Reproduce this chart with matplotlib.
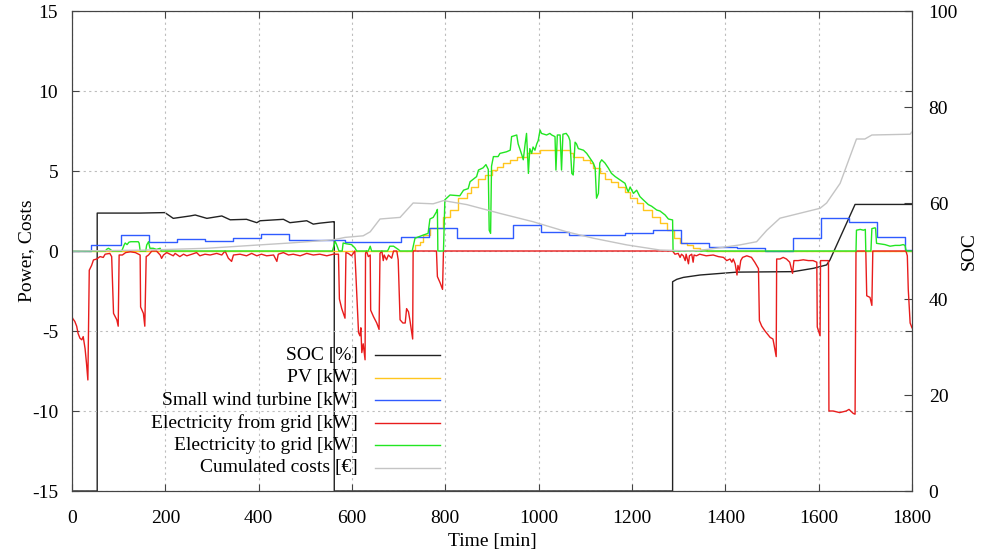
import matplotlib
matplotlib.use("Agg")
import matplotlib.pyplot as plt

plt.rcParams['font.family'] = ['Liberation Serif', 'DejaVu Serif']
plt.rcParams['axes.unicode_minus'] = False

# SOC [%] (right axis)
soc_t = [0, 54, 54, 146, 199, 217, 253, 264, 289, 321, 339, 374, 396, 403, 453, 467, 503, 517, 531, 560,
         562, 562, 1287, 1287, 1296, 1310, 1346, 1425, 1546, 1589, 1617, 1624, 1678, 1800]
soc_v = [0, 0, 57.9, 57.9, 58.0, 56.8, 57.3, 57.5, 56.8, 57.3, 56.5, 56.6, 55.9, 56.3, 56.6, 55.9, 56.3, 55.6, 55.8, 56.1,
         56.1, 0, 0, 43.6, 44.1, 44.5, 45.0, 45.6, 45.7, 46.4, 47.1, 48.1, 59.7, 59.7]

# PV [kW] (step changes)
pv_t = [0, 731, 735, 746, 753, 767, 796, 810, 828, 846, 856, 871, 885, 899, 910, 924, 939, 953, 974, 1003,
        1067, 1074, 1096, 1110, 1117, 1131, 1142, 1156, 1171, 1185, 1196, 1210, 1224, 1242, 1260, 1274, 1289,
        1303, 1317, 1331, 1346, 1360, 1800]
pv_v = [0, 0.06, 0.37, 0.58, 1.0, 1.42, 2.1, 2.56, 3.3, 3.6, 4.0, 4.5, 4.75, 5.06, 5.27, 5.5, 5.7, 5.9, 6.1, 6.3,
        6.1, 5.9, 5.7, 5.5, 5.2, 4.85, 4.5, 4.33, 4.0, 3.7, 3.3, 3.0, 2.56, 2.15, 1.73, 1.3, 0.8,
        0.48, 0.37, 0.17, 0.06, 0, 0]

# small wind turbine [kW] (hourly steps)
wind_t = [0, 40, 105, 165, 225, 285, 345, 405, 465, 525, 585, 645, 705, 765, 825, 885, 945, 1005, 1065, 1125,
          1185, 1245, 1305, 1365, 1425, 1485, 1545, 1605, 1665, 1725, 1785, 1800]
wind_v = [0, 0.37, 1.0, 0.58, 0.75, 0.62, 0.79, 1.08, 0.69, 0.69, 0.56, 0.54, 0.87, 1.42, 0.82, 0.82, 1.64, 1.2, 1.0, 1.0,
          1.1, 1.3, 0.52, 0.27, 0.17, 0.0, 0.8, 2.05, 1.83, 0.9, 0.06, 0.06]

# electricity from grid [kW]
grid_from_t = [0, 1, 6, 10, 13, 17, 21, 24, 28, 31, 34, 37, 42, 46, 53, 60, 67, 71, 81, 85,
               89, 96, 99, 101, 108, 115, 125, 136, 146, 147, 153, 156, 159, 164, 171, 181, 189, 192, 196, 203,
               210, 217, 221, 231, 239, 246, 257, 267, 274, 285, 296, 310, 321, 328, 335, 342, 346, 360, 374, 385,
               396, 406, 417, 432, 439, 442, 453, 464, 474, 489, 503, 517, 531, 546, 560, 571, 573, 578, 585, 587,
               592, 599, 606, 610, 614, 617, 619, 621, 624, 628, 629, 631, 635, 639, 640, 646, 653, 658, 660, 664,
               667, 669, 674, 678, 685, 689, 696, 699, 701, 703, 709, 714, 717, 721, 724, 730, 731, 781, 783, 789,
               794, 796, 1287, 1292, 1299, 1303, 1306, 1310, 1314, 1316, 1321, 1323, 1328, 1331, 1333, 1338, 1345, 1359, 1374, 1385,
               1396, 1403, 1410, 1414, 1417, 1421, 1425, 1427, 1430, 1433, 1437, 1446, 1456, 1463, 1469, 1471, 1473, 1478, 1485, 1496,
               1502, 1504, 1509, 1510, 1517, 1524, 1531, 1538, 1544, 1547, 1556, 1567, 1578, 1588, 1596, 1597, 1603, 1604, 1610, 1621,
               1622, 1631, 1645, 1659, 1665, 1674, 1678, 1680, 1701, 1703, 1710, 1714, 1716, 1787, 1790, 1792, 1796, 1800]
grid_from_v = [-4.0, -4.2, -4.4, -4.7, -5.15, -5.45, -5.55, -5.35, -6.1, -7.0, -8.06, -1.2, -0.9, -0.56, -0.5, -0.35, -0.4, -0.2, -0.15, -0.35,
               -3.9, -4.3, -4.7, -0.25, -0.25, -0.1, -0.05, -0.1, -0.25, -3.5, -3.9, -4.7, -0.35, -0.25, 0, 0, -0.25, -0.46, -0.25, -0.1,
               -0.2, -0.3, -0.15, -0.35, -0.2, -0.3, -0.2, -0.1, -0.3, -0.2, -0.25, -0.15, -0.25, 0, -0.45, -0.65, -0.25, -0.2, -0.3, -0.15,
               -0.3, -0.2, -0.3, -0.25, -0.65, -0.2, -0.1, -0.25, -0.2, -0.3, -0.15, -0.25, -0.2, -0.3, -0.2, -0.2, -3.0, -3.6, -4.2, -0.1,
               -0.15, -0.3, 0, -2.5, -5.1, -5.3, -4.8, -6.35, -5.8, -6.8, -0.15, 0, -0.35, -0.25, -3.7, -4.1, -4.5, -4.9, -0.15, 0,
               -0.6, -0.25, -0.55, -0.25, -0.45, 0, 0, -0.55, -2.5, -4.3, -4.5, -4.5, -3.6, -3.8, -4.3, -5.5, 0, 0, -1.6, -2.0,
               -2.4, 0, 0, -0.2, -0.15, -0.4, -0.2, -0.3, -0.6, -0.2, -0.8, -0.3, -0.2, -0.7, -0.25, -0.3, -0.2, -0.3, -0.25, -0.35,
               -0.4, -0.6, -0.5, -0.7, -0.5, -0.8, -1.5, -0.9, -1.2, -0.6, -0.4, -0.3, -0.4, -0.7, -1.0, -1.1, -4.35, -4.7, -5.0, -5.4,
               -5.5, -5.8, -6.6, -0.5, -0.5, -0.4, -0.5, -0.7, -1.4, -0.6, -0.6, -0.55, -0.6, -0.6, -0.7, -4.75, -5.3, -0.6, -0.6, -0.6,
               -10.0, -10.0, -10.1, -10.0, -9.9, -10.15, -10.2, 0, 0, -2.8, -2.9, -3.4, 0, 0, -0.3, -2.4, -4.5, -4.8]

# electricity to grid [kW]
grid_to_t = [0, 72, 74, 78, 82, 86, 106, 108, 112, 114, 118, 122, 126, 142, 144, 146, 158, 160, 164, 167,
             174, 181, 189, 191, 558, 560, 564, 567, 572, 579, 581, 588, 599, 606, 610, 635, 637, 639, 642, 676,
             678, 681, 689, 699, 703, 729, 731, 735, 753, 763, 767, 774, 781, 783, 784, 796, 799, 810, 831, 839,
             849, 853, 867, 871, 881, 887, 892, 894, 897, 899, 903, 913, 917, 931, 939, 942, 953, 956, 964, 967,
             971, 974, 978, 981, 985, 988, 992, 996, 999, 1003, 1006, 1017, 1024, 1028, 1035, 1037, 1040, 1046, 1049, 1052,
             1059, 1064, 1067, 1071, 1074, 1078, 1081, 1085, 1096, 1103, 1110, 1117, 1121, 1124, 1128, 1131, 1135, 1142, 1149, 1156,
             1164, 1174, 1185, 1189, 1192, 1196, 1203, 1210, 1217, 1224, 1235, 1242, 1253, 1260, 1271, 1278, 1287, 1288, 1680, 1681,
             1689, 1696, 1700, 1701, 1712, 1714, 1721, 1722, 1724, 1731, 1742, 1753, 1764, 1774, 1781, 1785, 1787, 1789, 1800]
grid_to_v = [0, 0, 0.1, 0.17, 0.1, 0, 0, 0.1, 0.4, 0.5, 0.4, 0.55, 0.58, 0.58, 0.48, 0, 0, 0.37, 0.58, 0.17,
             0.17, 0.1, 0.17, 0, 0, 0.2, 0.6, 0.4, 0, 0, 0.5, 0.45, 0.4, 0.2, 0, 0, 0.15, 0.3, 0, 0,
             0.1, 0.3, 0.3, 0.1, 0, 0, 0.27, 0.8, 1.0, 1.1, 2.0, 2.1, 2.45, 2.6, 0, 0, 3.2, 3.5, 3.45, 3.8,
             3.9, 4.33, 4.65, 5.06, 5.2, 5.4, 5.1, 1.3, 1.1, 5.3, 5.9, 5.9, 6.1, 6.2, 6.3, 7.15, 7.25, 6.7, 6.0, 5.7,
             6.7, 7.35, 4.85, 6.4, 6.1, 6.5, 6.3, 6.7, 6.9, 7.56, 7.35, 7.25, 7.35, 7.25, 7.15, 5.06, 7.25, 7.25, 5.06, 7.3,
             7.35, 7.15, 6.9, 4.85, 4.75, 6.8, 6.7, 6.4, 6.3, 6.1, 5.8, 5.5, 5.2, 3.3, 3.6, 5.5, 5.7, 5.5, 5.2, 4.85,
             4.65, 4.45, 4.23, 3.9, 3.7, 4.0, 3.6, 3.8, 3.4, 3.2, 2.9, 2.8, 2.56, 2.5, 2.25, 2.0, 1.94, 0, 0, 1.3,
             1.35, 1.3, 1.35, 0, 0, 1.4, 1.45, 1.4, 0.48, 0.45, 0.4, 0.3, 0.35, 0.35, 0.4, 0.35, 0.06, 0, 0]

# cumulated costs [EUR]
cost_t = [0, 150, 289, 396, 467, 560, 585, 624, 639, 660, 703, 731, 774, 796, 846, 917, 988, 1060, 1117, 1189,
          1260, 1331, 1367, 1431, 1467, 1489, 1517, 1603, 1617, 1646, 1681, 1699, 1714, 1796, 1800]
cost_v = [0, 0.05, 0.17, 0.37, 0.5, 0.7, 0.85, 0.95, 1.2, 2.0, 2.1, 3.0, 2.95, 3.15, 2.9, 2.35, 1.83, 1.2, 0.8, 0.38,
          0.06, 0.0, 0.12, 0.38, 0.58, 1.3, 2.05, 2.67, 3.0, 4.23, 7.0, 7.0, 7.25, 7.3, 7.45]

labels = ["SOC [%]", "PV [kW]", "Small wind turbine [kW]", "Electricity from grid [kW]",
          "Electricity to grid [kW]", "Cumulated costs [\u20ac]"]
colors = ["#222222", "#ffc61e", "#2f5bff", "#e81c1c", "#22e622", "#c4c4c4"]

fig = plt.figure(figsize=(9.86, 5.54), dpi=100)
ax = fig.add_axes([72 / 986, 63 / 554, 840 / 986, 480 / 554])
ax2 = ax.twinx()
ax.set_zorder(ax2.get_zorder() + 1)
ax.patch.set_visible(False)

lw = 1.0
ax2.plot(soc_t, soc_v, color=colors[0], lw=lw)
ax.plot(pv_t, pv_v, color=colors[1], lw=lw, drawstyle='steps-post')
ax.plot(wind_t, wind_v, color=colors[2], lw=lw, drawstyle='steps-post')
ax.plot(grid_from_t, grid_from_v, color=colors[3], lw=lw)
ax.plot(grid_to_t, grid_to_v, color=colors[4], lw=lw)
ax.plot(cost_t, cost_v, color=colors[5], lw=lw)

ax.set_xlim(0, 1800)
ax.set_ylim(-15, 15)
ax2.set_ylim(0, 100)
ax.set_xticks(range(0, 1801, 200))
ax.set_yticks(range(-15, 16, 5))
ax2.set_yticks(range(0, 101, 20))

ax.grid(True, color='#bdbdbd', linestyle=(0, (2, 3)), linewidth=0.8)
ax.tick_params(direction='in', length=5, labelsize=14, top=True, right=True, color='#444444')
ax.tick_params(axis='x', pad=14)
ax.tick_params(axis='y', pad=10)
ax2.tick_params(direction='in', length=6, labelsize=14, pad=12, color='#444444')
for a in (ax, ax2):
    for s in a.spines.values():
        s.set_color('#444444')

ax.set_xlabel("Time [min]", fontsize=14, labelpad=4)
ax.set_ylabel("Power, Costs", fontsize=14, labelpad=-2)
ax2.set_ylabel("SOC", fontsize=14, labelpad=2)

# gnuplot-style key: text right-aligned, sample line to the right
for i, (lab, c) in enumerate(zip(labels, colors)):
    y = 0.283 - i * 0.047
    ax.text(0.3405, y, lab, transform=ax.transAxes, ha='right', va='center', fontsize=14)
    ax.plot([0.361, 0.438], [y, y], transform=ax.transAxes, color=c, lw=lw)

fig.savefig("out.png", dpi=100)
